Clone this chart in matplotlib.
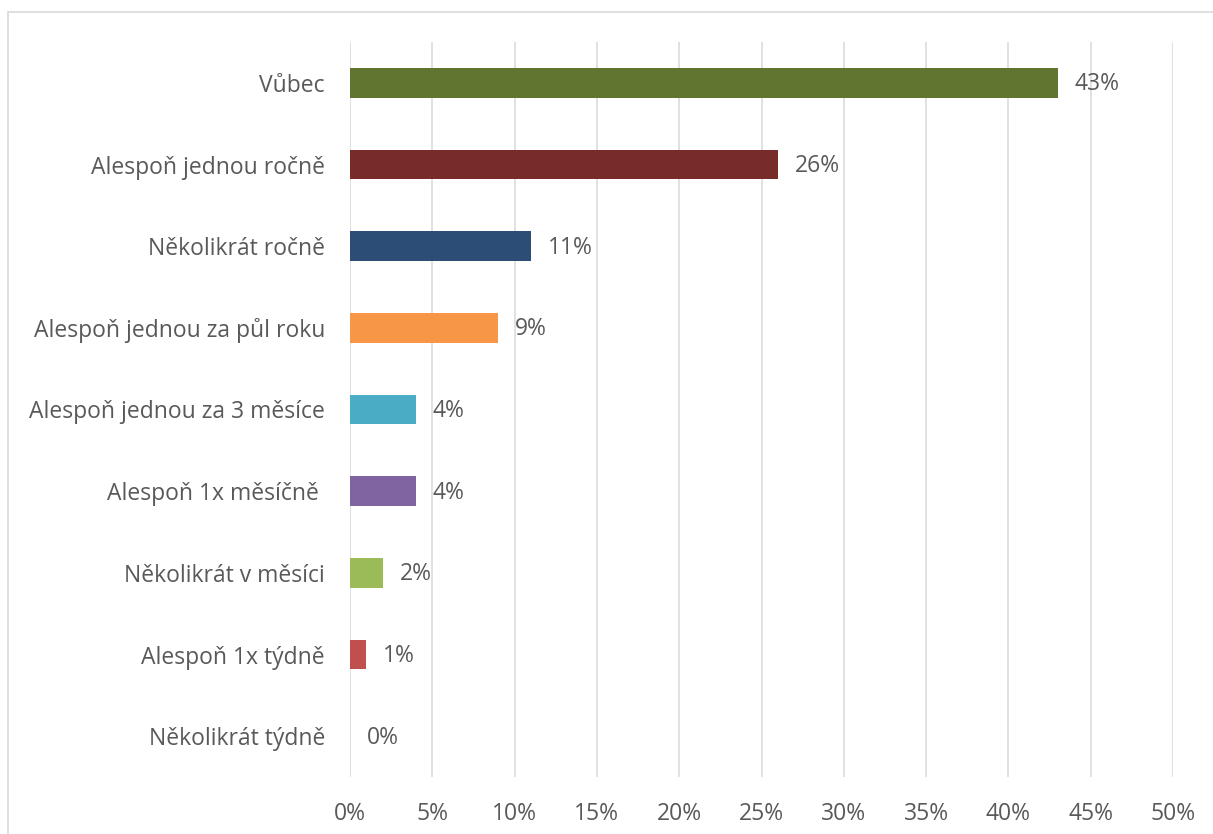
import matplotlib.pyplot as plt
from matplotlib.patches import Rectangle

categories = ['Vůbec', 'Alespoň jednou ročně', 'Několikrát ročně', 'Alespoň jednou za půl roku',
              'Alespoň jednou za 3 měsíce', 'Alespoň 1x měsíčně ', 'Několikrát v měsíci',
              'Alespoň 1x týdně', 'Několikrát týdně']
values = [43, 26, 11, 9, 4, 4, 2, 1, 0]
colors = ['#5F7530', '#772C2A', '#2C4D75', '#F79646', '#4BACC6', '#8064A2', '#9BBB59', '#C0504D', '#4F81BD']
xticks = [0, 5, 10, 15, 20, 25, 30, 35, 40, 45, 50]

plt.rcParams['font.family'] = ['Open Sans', 'DejaVu Sans']
txt = '#595959'
fs = 16.5

fig = plt.figure(figsize=(12.13, 8.34), dpi=100)
ax = fig.add_axes([350/1213, 1 - 777/834, 823/1213, 735/834])

# outer chart border
fig.patches.append(Rectangle((8/1213, -0.1), 1.2, 1 - 12/834 + 0.1, transform=fig.transFigure,
                             fill=False, edgecolor='#D9D9D9', linewidth=1.2))

ypos = list(range(len(categories)))
ax.barh(ypos, values, height=0.36, color=colors, zorder=3)
for y, v in zip(ypos, values):
    ax.text(v + 1.0, y + 0.02, f'{v}%', va='center', ha='left', fontsize=fs, color=txt)

ax.set_ylim(len(categories) - 0.5, -0.5)
ax.set_xlim(0, 50)
ax.set_xticks(xticks)
ax.set_xticklabels([f'{t}%' for t in xticks], fontsize=fs, color=txt)
ax.set_yticks(ypos)
ax.set_yticklabels(categories, fontsize=fs, color=txt)
ax.tick_params(axis='both', length=0)
ax.tick_params(axis='y', pad=18)
ax.tick_params(axis='x', pad=18)
ax.grid(axis='x', color='#D9D9D9', linewidth=1.1, zorder=0)
for s in ax.spines.values():
    s.set_visible(False)

plt.savefig('out.png', dpi=100)
